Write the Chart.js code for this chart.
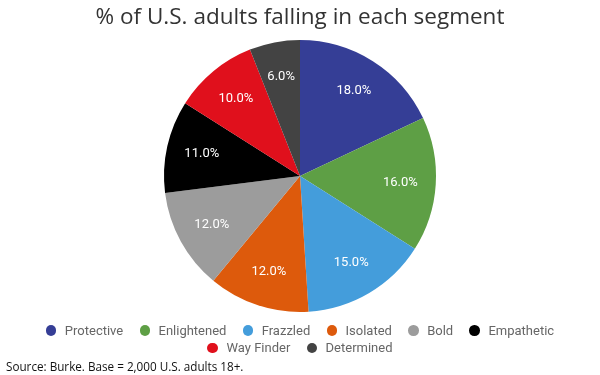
<!DOCTYPE html>
<html>
<head>
<meta charset="utf-8">
<script src="https://cdn.jsdelivr.net/npm/chart.js@4"></script>
<style>
  html, body { margin: 0; padding: 0; background: #fff; }
  #wrap { position: relative; width: 600px; height: 375px; overflow: hidden; }
  #c { position: absolute; left: 0; top: 0; }
  #legend { position: absolute; left: 20px; width: 560px; top: 321.5px; display: flex; flex-wrap: wrap; justify-content: center;
    font-family: Roboto, sans-serif; font-size: 13px; color: #666; line-height: 17.5px; }
  .item { display: flex; align-items: center; margin: 0 8.15px; }
  .dot { width: 10.5px; height: 10.5px; border-radius: 50%; margin-right: 8.5px; }
  #source { position: absolute; left: 6px; top: 358px; font-family: "Open Sans", sans-serif; font-size: 11.7px; color: #111; white-space: nowrap; }
</style>
</head>
<body>
<div id="wrap">
  <canvas id="c" width="600" height="375"></canvas>
  <div id="legend"></div>
  <div id="source">Source: Burke. Base = 2,000 U.S. adults 18+.</div>
</div>
<script>
const titleText = "% of U.S. adults falling in each segment";
const categories = ["Protective", "Enlightened", "Frazzled", "Isolated", "Bold", "Empathetic", "Way Finder", "Determined"];
const values = [18, 16, 15, 12, 12, 11, 10, 6];
const colors = ["#353e96", "#5e9f45", "#449ddb", "#dd5a0c", "#9c9c9c", "#000000", "#e0101c", "#434343"];

const labelPlugin = {
  id: "sliceLabels",
  afterDatasetsDraw(chart) {
    const ctx = chart.ctx;
    const meta = chart.getDatasetMeta(0);
    ctx.save();
    ctx.font = "13px Roboto, sans-serif";
    ctx.fillStyle = "#ffffff";
    ctx.textAlign = "center";
    ctx.textBaseline = "middle";
    meta.data.forEach((arc, i) => {
      const p = arc.getProps(["x", "y", "startAngle", "endAngle", "outerRadius"], true);
      const mid = (p.startAngle + p.endAngle) / 2;
      const r = p.outerRadius * 0.74;
      ctx.fillText(values[i].toFixed(1) + "%", p.x + Math.cos(mid) * r, p.y + Math.sin(mid) * r);
    });
    ctx.restore();
  }
};

new Chart(document.getElementById("c"), {
  type: "pie",
  data: {
    labels: categories,
    datasets: [{ data: values, backgroundColor: colors, borderWidth: 0 }]
  },
  options: {
    responsive: false,
    animation: false,
    layout: { padding: { top: 0, bottom: 63, left: 0, right: 0 } },
    plugins: {
      legend: { display: false },
      tooltip: { enabled: false },
      title: {
        display: true,
        text: titleText,
        color: "#333",
        font: { family: "'Open Sans', sans-serif", size: 22.5, weight: "normal" },
        padding: { top: 4, bottom: 9 }
      }
    }
  },
  plugins: [labelPlugin]
});

const legend = document.getElementById("legend");
categories.forEach((name, i) => {
  const it = document.createElement("div");
  it.className = "item";
  const d = document.createElement("span");
  d.className = "dot";
  d.style.background = colors[i];
  const t = document.createElement("span");
  t.textContent = name;
  it.appendChild(d); it.appendChild(t);
  legend.appendChild(it);
});
</script>
</body>
</html>
